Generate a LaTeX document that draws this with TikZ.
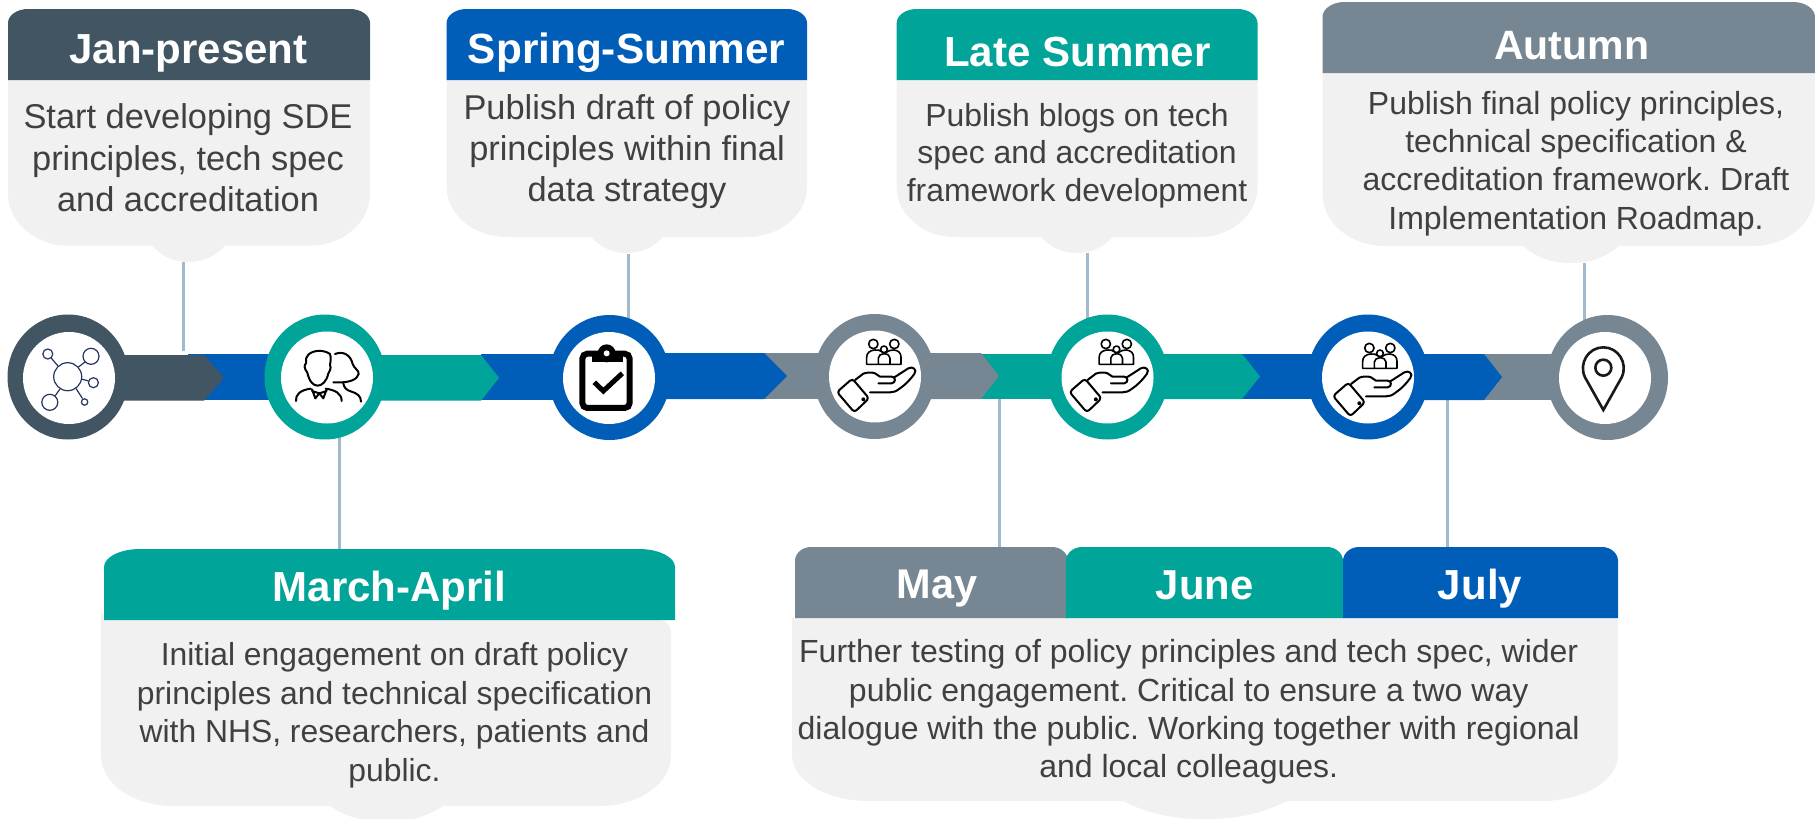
\documentclass[tikz,border=0pt]{standalone}
\usepackage{fontspec}
\setmainfont{Liberation Sans}
\usetikzlibrary{shapes.geometric}
\frenchspacing
\definecolor{nhsdark}{HTML}{425563}
\definecolor{nhsblue}{HTML}{005EB8}
\definecolor{nhsaqua}{HTML}{00A499}
\definecolor{nhsgrey}{HTML}{768692}
\definecolor{panelbg}{HTML}{F1F1F1}
\definecolor{linkblue}{HTML}{A3B9CC}
\definecolor{bodytext}{HTML}{404040}
\definecolor{netblue}{HTML}{27345F}
\tikzset{
  hubring/.style={ellipse,inner sep=0pt,outer sep=0pt,minimum width=121pt,minimum height=125pt,fill=#1},
  hubcore/.style={ellipse,inner sep=0pt,outer sep=0pt,minimum width=92pt,minimum height=92pt,fill=white},
  headtext/.style={font=\bfseries\fontsize{#1}{#1}\selectfont,text=white,anchor=base,inner sep=0pt},
  bodyblock/.style 2 args={font=\fontsize{#1}{#2}\selectfont,text=bodytext,align=center,anchor=center,inner sep=0pt},
  linkline/.style={draw=linkblue,line width=3pt},
  iconline/.style={draw=black,line width=2pt,line cap=round,line join=round},
  famline/.style={draw=black,line width=1.6pt,line cap=round,line join=round}
}
% header: x1 y1 x2 y2 rx ry colour
\newcommand{\headshape}[7]{%
  \fill[#7] (#1,#4) -- (#1,{#2+#6}) .. controls (#1,{#2+.45*#6}) and ({#1+.45*#5},#2) .. ({#1+#5},#2)
   -- ({#3-#5},#2) .. controls ({#3-.45*#5},#2) and (#3,{#2+.45*#6}) .. (#3,{#2+#6}) -- (#3,#4) -- cycle;}
% panel: x1 y1 x2 y2 rx tail-left tail-right tail-bottom ry
\newcommand{\panelshape}[9]{%
  \fill[panelbg,rounded corners=\paneltop pt] (#1,#2) -- (#3,#2) -- (#3,{(#2+#4)/2}) [sharp corners] -- (#3,{#4-#9}) .. controls (#3,{#4-.45*#9}) and ({#3-.45*#5},#4) .. ({#3-#5},#4)
   -- (#7,#4) .. controls ({#7-.15*(#7-#6)},{#4+.7*(#8-#4)}) and ({#7-.3*(#7-#6)},#8) .. ({(#6+#7)/2},#8)
   .. controls ({#6+.3*(#7-#6)},#8) and ({#6+.15*(#7-#6)},{#4+.7*(#8-#4)}) .. (#6,#4)
   -- ({#1+#5},#4) .. controls ({#1+.45*#5},#4) and (#1,{#4-.45*#9}) .. (#1,{#4-#9}) -- (#1,{(#2+#4)/2}) [rounded corners=\paneltop pt] -- (#1,#2) -- cycle;}
\newcommand{\paneltop}{0}
% bar with arrow: x1 x2(shoulder) tip ytop ybottom colour
\newcommand{\arrowbar}[6]{%
  \fill[#6] (#1,#4) -- (#2,#4) -- (#3,{(#4+#5)/2}) -- (#2,#5) -- (#1,#5) -- cycle;}
% hand-and-family icon, local units are 1/3 pixel
\newcommand{\handicon}[2]{%
  \begin{scope}[shift={(#1,#2)},x=.3333pt,y=-.3333pt]
    \draw[famline] (145,42) circle[radius=14];
    \draw[famline] (208,42) circle[radius=14];
    \draw[famline] (177,58) circle[radius=10];
    \draw[famline] (160,103) -- (125,103) -- (125,82) .. controls (125,68) and (135,62) .. (148,60) (172,66) .. controls (165,60) and (160,60) .. (150,60);
    \draw[famline] (160,103) -- (160,84) .. controls (160,76) and (168,72) .. (177,71) .. controls (187,72) and (195,76) .. (195,84) -- (195,103) -- cycle;
    \draw[famline] (195,103) -- (228,103) -- (228,82) .. controls (228,68) and (220,62) .. (207,60) .. controls (197,60) and (190,62) .. (184,67);
    \draw[iconline,rounded corners=3pt] (36,186) -- (82,146) -- (132,205) -- (88,247) -- cycle;
    \fill (115,208) circle[radius=6];
    \draw[iconline] (90,150) -- (115,131) .. controls (125,127) and (140,126) .. (150,130) -- (165,140) -- (200,140) .. controls (212,140) and (214,158) .. (200,160) -- (160,160);
    \draw[iconline] (208,142) -- (250,115) .. controls (262,108) and (278,118) .. (268,132) .. controls (255,150) and (240,165) .. (225,175) .. controls (212,185) and (205,187) .. (195,187) -- (135,187);
  \end{scope}}
\begin{document}
\begin{tikzpicture}[x=1pt,y=-1pt]
\useasboundingbox (0,0) rectangle (1815,819);

% anchors of the connectors
\coordinate (t1) at (183,262); \coordinate (e1) at (183,351);
\coordinate (t3) at (628,254); \coordinate (e3) at (628,330);
\coordinate (t5) at (1087.5,253); \coordinate (e5) at (1087.5,330);
\coordinate (t7) at (1584,263); \coordinate (e7) at (1584,330);
\coordinate (s2) at (339,430); \coordinate (b2) at (339,549);
\coordinate (s4) at (999,398); \coordinate (b4) at (999,547);
\coordinate (s6) at (1447.6,399); \coordinate (b6) at (1447.6,547);

% callout panels
\panelshape{8}{80}{370}{245.7}{60}{152}{225}{262}{52}
\panelshape{446.6}{80}{807}{237}{60}{591}{663}{253}{50}
\panelshape{896.7}{80}{1257.5}{237}{58}{1041}{1112.6}{253}{50}
\panelshape{1322.5}{73}{1815}{246}{62}{1523}{1619}{263}{52}
\renewcommand{\paneltop}{12}
\panelshape{101}{620}{671}{806}{72}{330}{443}{822}{50}
\renewcommand{\paneltop}{0}
\panelshape{792}{618}{1618}{801}{76}{1123}{1287}{819}{46}

% callout headers
\headshape{8}{9}{370}{80}{20}{14}{nhsdark}
\headshape{446.6}{9}{807}{80}{20}{14}{nhsblue}
\headshape{896.7}{9}{1257.5}{80}{20}{14}{nhsaqua}
\headshape{1322.5}{2}{1815}{73}{22}{15}{nhsgrey}
\headshape{104}{549}{675}{620}{36}{18}{nhsaqua}
\headshape{795}{547}{1068}{618}{16}{14}{nhsgrey}
\headshape{1066}{547}{1343}{618}{16}{14}{nhsaqua}
\headshape{1343}{547}{1618}{618}{16}{14}{nhsblue}

% connectors
\draw[linkline] (t1) -- (e1);
\draw[linkline] (t3) -- (e3);
\draw[linkline] (t5) -- (e5);
\draw[linkline] (t7) -- (e7);
\draw[linkline] (s2) -- (b2);
\draw[linkline] (s4) -- (b4);
\draw[linkline] (s6) -- (b6);

% timeline bars
\fill[nhsblue] (188,354) rectangle (300,400);
\arrowbar{100}{204}{224}{355}{400.7}{nhsdark}
\fill[nhsblue] (481,354) rectangle (600,400);
\arrowbar{350}{481}{499}{355}{400.7}{nhsaqua}
\fill[nhsgrey] (764,353) rectangle (850,399);
\arrowbar{640}{764}{787}{353}{399}{nhsblue}
\fill[nhsaqua] (981,354) rectangle (1100,399);
\arrowbar{900}{981}{999}{353}{399}{nhsgrey}
\fill[nhsblue] (1242,354) rectangle (1350,399);
\arrowbar{1130}{1242}{1260}{354}{399}{nhsaqua}
\fill[nhsgrey] (1484,354) rectangle (1600,400);
\arrowbar{1400}{1484}{1502}{354}{400}{nhsblue}

% hubs
\node[hubring=nhsdark] (hub1) at (68,377) {};
\node[hubcore] (core1) at (69,378) {};
\node[hubring=nhsaqua] (hub2) at (325,377) {};
\node[hubcore] (core2) at (327,377.5) {};
\node[hubring=nhsblue] (hub3) at (609.5,377.5) {};
\node[hubcore] (core3) at (609,378) {};
\node[hubring=nhsgrey] (hub4) at (874.5,376.5) {};
\node[hubcore] (core4) at (875,376.5) {};
\node[hubring=nhsaqua] (hub5) at (1107.5,377) {};
\node[hubcore] (core5) at (1107.5,377.5) {};
\node[hubring=nhsblue] (hub6) at (1368,377) {};
\node[hubcore] (core6) at (1368,377.5) {};
\node[hubring=nhsgrey] (hub7) at (1607.5,377.5) {};
\node[hubcore] (core7) at (1605,378) {};

% icon: network
\begin{scope}[draw=netblue,line width=1.2pt]
  \draw (67.7,376.7) circle[radius=14];
  \draw (47.8,354) circle[radius=5];
  \draw (91,356.3) circle[radius=8];
  \draw (93.4,382.7) circle[radius=5];
  \draw (49.8,402.3) circle[radius=8];
  \draw (84.6,402) circle[radius=3.2];
  \draw (51.2,358) -- (58,366);
  \draw (85,362) -- (78.5,367);
  \draw (81.5,379) -- (88.5,381);
  \draw (55,396) -- (60,389);
  \draw (82.5,398.5) -- (76,388.5);
\end{scope}

% icon: two people
\begin{scope}[shift={(280,330)},x=.3333pt,y=-.3333pt]
  \draw[iconline] (85,74) .. controls (100,60) and (130,58) .. (150,72) .. controls (154,85) and (152,95) .. (150,105)
     .. controls (155,115) and (148,125) .. (145,130) .. controls (140,155) and (125,167) .. (113,167) .. controls (100,167) and (88,155) .. (82,128)
     .. controls (72,115) and (72,105) .. (78,100) .. controls (76,90) and (78,80) .. (85,74) -- cycle;
  \draw[iconline] (48,213) .. controls (46,195) and (60,180) .. (92,176);
  \draw[iconline] (137,176) .. controls (165,180) and (185,190) .. (185,213);
  \draw[iconline] (96,178) -- (106,205) -- (118,190) -- (130,205) -- (140,178) (96,183) -- (118,190) -- (140,183);
  \draw[iconline] (165,72) .. controls (190,62) and (212,75) .. (218,102) .. controls (222,115) and (238,122) .. (236,132) .. controls (232,148) and (210,160) .. (160,157);
  \draw[iconline] (190,160) .. controls (192,172) and (198,180) .. (212,184) .. controls (232,190) and (243,198) .. (243,215);
\end{scope}

% icon: clipboard
\begin{scope}[shift={(560,330)},x=.3333pt,y=-.3333pt]
  \draw[line width=6pt,rounded corners=5pt] (67,71) rectangle (209,234);
  \fill (95,62) rectangle (190,97);
  \fill (140,70) circle[radius=27];
  \fill[white] (140,70) circle[radius=9];
  \draw[line width=5pt] (103,157) -- (130,183) -- (187,130);
\end{scope}

% icons: hand and family
\handicon{825}{330}
\handicon{1057.5}{330}
\handicon{1321}{334}

% icon: pin
\begin{scope}[shift={(1555,330)},x=.3333pt,y=-.3333pt]
  \draw[line width=2.6pt,draw=black!90,line join=miter] (145,240) -- (90,142) .. controls (70,100) and (100,52) .. (145,52)
     .. controls (190,52) and (220,100) .. (200,142) -- cycle;
  \draw[line width=2.6pt,draw=black!90] (145,113) circle[radius=24];
\end{scope}

% header texts
\node[headtext=42] (h1) at (188.6,63) {Jan-present};
\node[headtext=42.3] (h2) at (626.6,63) {Spring-Summer};
\node[headtext=42.1] (h3) at (1077.4,66) {Late Summer};
\node[headtext=41] (h4) at (1571.7,59.3) {Autumn};
\node[headtext=42] (h5) at (389.5,601) {March-April};
\node[headtext=41.5] (h6) at (937,598) {May};
\node[headtext=41.8] (h7) at (1204.6,599) {June};
\node[headtext=42] (h8) at (1480,599) {July};

% body texts
\node[bodyblock={34.4}{41.5}] (b1) at (188,158) {Start developing SDE\\principles, tech spec\\and accreditation};
\node[bodyblock={34.4}{41}] (bb2) at (627,152) {Publish draft of policy\\principles within final\\data strategy};
\node[bodyblock={31.9}{37.5}] (bb3) at (1077,155.5) {Publish blogs on tech\\spec and accreditation\\framework development};
\node[bodyblock={32}{38.3}] (bb4) at (1576,163.5) {Publish final policy principles,\\technical specification \&\\accreditation framework. Draft\\Implementation Roadmap.};
\node[bodyblock={31.85}{38.5}] (bb5) at (394.5,715.5) {Initial engagement on draft policy\\principles and technical specification\\with NHS, researchers, patients and\\public.};
\node[bodyblock={32}{38.3}] (bb6) at (1188.7,712) {Further testing of policy principles and tech spec, wider\\public engagement. Critical to ensure a two way\\dialogue with the public. Working together with regional\\and local colleagues.};
\end{tikzpicture}
\end{document}
